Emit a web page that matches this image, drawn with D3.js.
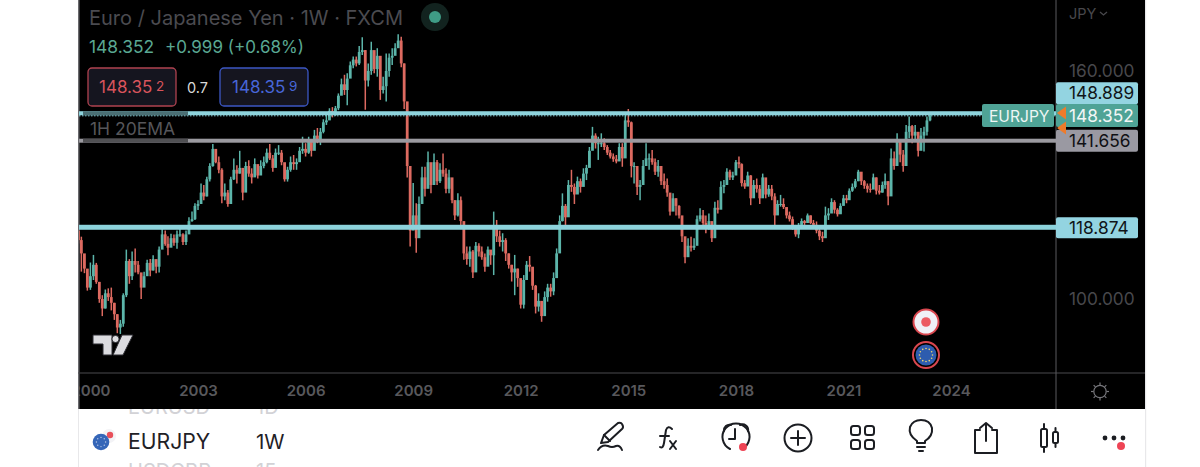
<!DOCTYPE html>
<html><head><meta charset="utf-8">
<script src="https://cdn.jsdelivr.net/npm/d3@7/dist/d3.min.js"></script>
<style>html,body{margin:0;padding:0;background:#fff;overflow:hidden}svg{display:block}text{font-family:Inter,"Noto Sans",sans-serif}</style>
</head><body><svg id="c" width="1200" height="467"></svg>
<script>
const yearTicks=[2000,2003,2006,2009,2012,2015,2018,2021,2024];
const priceTicks=[160,100];
const levels=[148.889,141.656,118.874];
const levelLabels=["148.889","141.656","118.874"];
const lastPrice=148.352;
const startYear=1999, startMonth=8;
const closes=[
115.5,112,108,103,106,109,104.5,100,97.5,101.5,
100.5,99,96,92.5,93.5,101,110,106,110,109,
107,103,106,109.5,107.5,110.5,108.5,113,117,114.5,
113.5,116,114.8,117,117,115,117,120.5,121,124.5,
125,128,127,131.5,135,139.5,136,134,127,128,
125,131.5,134,133,134.5,128,135,133,132,135.5,
132.5,135,136,138.5,137,134.5,138.5,138.5,136,131.5,
134,136,135.5,136,139,139.5,138.5,141.5,139,143,
142,144,146.5,147,149.5,149,150.2,153.5,156.5,155,
158,161.5,163,162,165,165.5,157.5,160,165.5,160.5,
164,155,156,160,163.5,164,166,168,162,152,
135,118,122,116,125,132,129,136,130,136,
131,134,133,129,132,126,122,126,120.5,112,
110.5,112.5,107,114,112.5,111,108.5,113,111.5,119,
116.5,115,115.5,112,109,107,108,105.5,98.5,105,
109,108.5,103.5,98,99.5,95.5,100.5,103,102,105.5,
112,120.5,124.5,121.5,130,129.5,127.5,131,129.5,133,
134.5,139,143,141,141,141,140,138.5,137.5,136.8,
136.2,140,137,147,146.5,135,135,129.5,130,135,
137,137,136,133.5,135,131,130,128,123,126.5,
124.5,122,116.5,111,114,113.5,114,121,122,120,
118.5,120.5,116,124,123.5,129.5,130,133.5,132,132.5,
136,135.5,130.5,129.6,132.5,126.5,130,129,126.5,132,
127.5,129,127,122,125,125,124.2,122,121,119,
117,119.5,120.5,120,122,120,119.5,118,116.5,116,
122,122.5,125.5,123.5,122.3,124.5,126.5,126,128.5,129.5,
131,133.5,131,129.8,129,128.8,132,128.5,128,130,
131,127,137,135,142,138,135,144,145.5,143,
144,139,143,144,147,148.352];
const highs=[
118.6,116.4,111.2,106.8,109.6,111.6,109.5,104.5,101,102.5,
102.8,103,99,96,94.5,101.5,113,110.5,112.5,113.3,
110,106.8,107.2,110.3,110.5,111.5,110.3,113.8,119.3,118,
116.5,117.2,117,118,119.2,117.3,118,121.5,123,125.2,
126,130.4,130,132.2,135.7,140.8,139.2,137.5,134.4,130.4,
128.7,132.2,137,135.2,139,134,136.1,136.5,134.4,137,
135.2,136.5,137.5,139.6,140.8,137.9,139.6,140.5,139.2,135.7,
134.8,137.5,137.9,137,140,142.7,141,142.7,141.8,144.5,
145,145,147.3,148.9,150.2,150.5,150.8,154.1,158,159,
159.4,162.5,163.8,163.8,166.6,168.9,165.5,162,167.7,164.6,
166,159.4,158.5,164.6,164.6,166,167.3,169.7,169,162,
150.6,133,130.5,125.2,127,134.8,134.8,138.8,135.7,138.3,
136.6,135.7,138.3,134.4,134,129.5,126,127.8,127,119,
113.8,113.8,112.9,115,114.7,113.8,112,113.8,112.5,123,
120.8,118,117.3,116,112,109,111.6,108,104.6,106.3,
110,111.3,108,103.7,101.5,99.3,102,104,104,107,
113.3,122,127.8,125,131.3,134,130.4,132.2,131.7,134.4,
135.3,140,145.3,143.6,142.7,143.6,142.3,140.5,139.2,138.3,
137.9,141,141,148.4,150,146.7,136,132.6,131.3,136.6,
141,138.3,139.2,137,136.6,134.4,133,131.7,127.8,127.8,
126.5,124.7,121.7,116,116,116.4,116,122,123.9,123.4,
122,122.5,119,125.6,126,131,131.3,134.4,134,133.5,
136.6,137.5,135.7,131.3,133.5,132.6,131.3,131.7,130,133,
130.9,130,130,127.8,126,127.4,126.5,124,123,121.7,
119.5,120,121.2,120.8,122.5,122,120.8,120.4,118.6,117.7,
124.3,123.9,126.5,126,123.9,125.2,127.4,127.4,129.1,130.4,
131.6,134,133,131.3,130.4,130.4,133,132,130,130.9,
133,131,139.6,138.8,143.6,141.8,139.2,145.8,148,145.8,
145.8,141.8,145,145.3,148,148.9];
const lows=[
114.6,107.2,106.8,102.2,102.4,105,104,99,95.5,97.5,
99.5,97,94.5,91,90.8,92.7,100.5,104,105,107,
106.5,100,104.5,106.8,106,107.5,106.8,107,113.5,114,
111.5,113.8,114,113.2,116.4,114.2,114.2,117.8,120.3,120.8,
123.4,125.6,126,127,130.9,134.8,135.7,133.1,125.2,126,
124.3,127.4,131.3,130.4,133,126,129,132.2,130.4,132.6,
131.7,133,134.4,135.7,136.6,133.5,135.2,137.9,135.2,130.9,
130.9,133.5,134,134,137,138.2,137.5,138.2,137.5,140,
141,140.5,143.6,145.8,147.1,147.8,148.2,149.7,154,153.7,
151,158.5,160.7,161.2,161.6,164.2,149.8,155.9,159,159.4,
158.5,152.4,154.1,152,158.5,161.6,164.2,166.4,161,150,
132,113.8,119,112.2,120,126,127,132.2,127.8,133,
130,130.5,132.2,127.8,127.8,125.2,120.8,121.7,119,110.3,
109,108.5,105.5,110.3,111.2,110.3,107.2,109.4,109,106.3,
115,113.8,112.5,110,108,104.6,101,103.2,97.5,97.5,
105.5,107.2,102.4,96.2,96.7,94,96.7,99.3,100.6,101,
106.3,112.9,120.4,119.3,124.7,128.2,125,127.8,128,130.7,
131.3,134.8,141,139.6,136.6,140,139.2,137.9,137,136.1,
135.7,137,134.8,141.4,145.3,132,130.4,127.4,126,131.3,
135.7,134,135.3,132.6,132.2,130,129,126.9,122,123.9,
122,121.2,115,109.4,112.5,112.5,112.9,116,120.4,118.6,
117.3,118.2,115,119,122.5,125.6,127.8,130,131.3,131.3,
133.5,134.4,129.6,129,130,124.7,127,128,125,129.6,
126.5,126.9,126,119.5,123.4,124.3,123.7,121.2,120.4,118.2,
116.4,116,119,119.3,120.4,119.7,118.6,117.3,115.5,115,
116.8,120.8,123.4,122.5,121.7,122.5,124.7,125.2,126.5,128.2,
129.1,131,130,129,128,128,129.6,127.5,127.5,128,
129,124.7,130.4,134,137,136,133.5,137.9,142.3,141,
141.8,137.5,140,138.8,143,146.8];

const svg=d3.select("#c");
const LEFT=78,RIGHT=1145,AXIS=1056,BOTTOM=409,SEP=373;
const x=d3.scaleTime().domain([new Date(2003,0,1),new Date(2024,0,1)]).range([198,951]);
const y=d3.scaleLinear().domain([100,160]).range([299,71]);
const candles=closes.map((c,i)=>({date:new Date(startYear,startMonth+i,1),open:i?closes[i-1]:118,close:c,high:highs[i],low:lows[i]}));

const defs=svg.append("defs");
defs.append("clipPath").attr("id","plot").append("rect").attr("x",LEFT+1).attr("y",0).attr("width",AXIS-LEFT-1).attr("height",SEP);
defs.append("clipPath").attr("id","timeClip").append("rect").attr("x",LEFT+1).attr("y",SEP).attr("width",AXIS-LEFT-1).attr("height",BOTTOM-SEP);
defs.append("clipPath").attr("id","barClip").append("rect").attr("x",LEFT).attr("y",BOTTOM).attr("width",RIGHT-LEFT).attr("height",467-BOTTOM);
defs.append("filter").attr("id","soft").attr("x","-5%").attr("y","-5%").attr("width","110%").attr("height","110%").append("feGaussianBlur").attr("stdDeviation",0.55);

svg.append("rect").attr("x",LEFT).attr("y",0).attr("width",RIGHT-LEFT).attr("height",BOTTOM).attr("fill","#000");
svg.append("rect").attr("x",LEFT).attr("y",0).attr("width",1.5).attr("height",BOTTOM).attr("fill","#6a6a6e");
svg.append("line").attr("x1",LEFT).attr("x2",RIGHT).attr("y1",SEP).attr("y2",SEP).attr("stroke","#4a4a4e");
svg.append("line").attr("x1",AXIS).attr("x2",AXIS).attr("y1",0).attr("y2",BOTTOM).attr("stroke","#5a5a5e");

// candles
const UP="#5cb5aa",DOWN="#dd6a61";
const cg=svg.append("g").attr("clip-path","url(#plot)").attr("filter","url(#soft)");
const col=d=>d.close>=d.open?UP:DOWN;
cg.selectAll(".w").data(candles).join("line").attr("class","w")
 .attr("x1",d=>x(d.date)).attr("x2",d=>x(d.date)).attr("y1",d=>y(d.high)).attr("y2",d=>y(d.low))
 .attr("stroke",col).attr("stroke-width",1.5);
cg.selectAll(".b").data(candles).join("rect").attr("class","b")
 .attr("x",d=>x(d.date)-1.4).attr("width",2.8)
 .attr("y",d=>y(Math.max(d.open,d.close))).attr("height",d=>Math.max(1,Math.abs(y(d.open)-y(d.close))))
 .attr("fill",col);

// horizontal levels
const levelColors=["#8dd3dc","#9b9aa0","#8dd3dc"],levelH=[4,4,5];
levels.forEach((v,i)=>{
  svg.append("rect").attr("x",LEFT+1).attr("width",AXIS-LEFT-1).attr("y",y(v)-levelH[i]/2).attr("height",levelH[i]).attr("fill",levelColors[i]);
});
svg.append("line").attr("x1",LEFT+1).attr("x2",AXIS).attr("y1",y(levels[0])+2.6).attr("y2",y(levels[0])+2.6).attr("stroke","#8dd3dc").attr("stroke-width",1).attr("stroke-dasharray","1.5 1.5");
svg.append("rect").attr("x",83).attr("width",105).attr("y",y(levels[0])-2).attr("height",4).attr("fill","#4a6f74");
svg.append("rect").attr("x",83).attr("width",105).attr("y",y(levels[1])-2).attr("height",4).attr("fill","#505053");
svg.append("text").attr("x",90).attr("y",135).attr("font-size",17.5).attr("fill","#56565a").text("1H 20EMA");

// price axis
const yAxis=d3.axisRight(y).tickValues(priceTicks).tickSize(0).tickPadding(13).tickFormat(d3.format(".3f"));
const ya=svg.append("g").attr("transform",`translate(${AXIS},0)`).call(yAxis);
ya.select(".domain").remove();
ya.selectAll("text").attr("font-size",17.3).attr("fill","#48484c").attr("font-family","Inter,sans-serif");
svg.append("text").attr("x",1069).attr("y",19).attr("font-size",14.5).attr("fill","#48484c").text("JPY");
svg.append("path").attr("d","M1100 12l3.5 3 3.5-3").attr("fill","none").attr("stroke","#48484c").attr("stroke-width",1.3);

// time axis
const xAxis=d3.axisBottom(x).tickValues(yearTicks.map(v=>new Date(v,0,1))).tickSize(0).tickPadding(12).tickFormat(d3.timeFormat("%Y"));
const xa=svg.append("g").attr("clip-path","url(#timeClip)").append("g").attr("transform",`translate(0,${SEP})`).call(xAxis);
xa.select(".domain").remove();
xa.selectAll("text").attr("font-size",15).attr("font-weight",600).attr("fill","#58585c").attr("font-family","Inter,sans-serif");

// price tags
function tag(x0,y0,w,h,fill,txt,tc,anchorX,fs){
  svg.append("rect").attr("x",x0).attr("y",y0).attr("width",w).attr("height",h).attr("rx",2).attr("fill",fill);
  svg.append("text").attr("x",anchorX).attr("y",y0+h/2+6).attr("font-size",fs||17.3).attr("fill",tc).text(txt);
}
tag(AXIS,y(levels[0])-31,82,22,"#93d4e1",levelLabels[0],"#101418",1069);
tag(AXIS,y(levels[1])-11,82,22,"#9a99a2",levelLabels[1],"#101014",1069);
tag(AXIS,y(levels[2])-10,82,21,"#93d4e1",levelLabels[2],"#101418",1069);
tag(AXIS,104,82,23,"#4fa396",d3.format(".3f")(lastPrice),"#f2f6f5",1069);
tag(982,104,72,23,"#4fa396","EURJPY","#eef6f4",989,15.6);
svg.append("path").attr("d","M1057 113l9-6.5v13z").attr("fill","#ee7b2a");
svg.append("path").attr("d","M1057 128l9-6.5v13z").attr("fill","#ee7b2a");

// header
svg.append("text").attr("x",89).attr("y",25).attr("font-size",20).attr("fill","#4b4b50").text("Euro / Japanese Yen · 1W · FXCM");
svg.append("circle").attr("cx",435).attr("cy",17).attr("r",14).attr("fill","#12231f");
svg.append("circle").attr("cx",435).attr("cy",17).attr("r",6).attr("fill","#3f9c86");
svg.append("text").attr("x",89).attr("y",53).attr("font-size",17.4).attr("fill","#5aa893").text("148.352");
svg.append("text").attr("x",165).attr("y",53).attr("font-size",17).attr("fill","#5aa893").text("+0.999 (+0.68%)");
function box(x0,w,st,tc,main,sup,tx){
  svg.append("rect").attr("x",x0).attr("y",68).attr("width",w).attr("height",38).attr("rx",4).attr("fill","#15151f").attr("stroke",st).attr("stroke-width",1.3);
  svg.append("text").attr("x",tx).attr("y",93).attr("font-size",17).attr("fill",tc).text(main);
  svg.append("text").attr("x",tx+57).attr("y",91).attr("font-size",13.5).attr("fill",tc).text(sup);
}
box(88,88,"#b04350","#d9545c","148.35","2",99);
box(220,88,"#3c57c4","#4766d8","148.35","9",232);
svg.append("text").attr("x",187).attr("y",93).attr("font-size",14.5).attr("fill","#d8d8d8").text("0.7");

// TradingView logo
const logo=svg.append("g").attr("fill","#dcdce0").attr("stroke","#2a2a30").attr("stroke-width",1);
logo.append("path").attr("d","M93 335H112V355H103V344H93Z");
logo.append("circle").attr("cx",115.5).attr("cy",339).attr("r",3.6);
logo.append("path").attr("d","M122 335H133L123 355H113Z");

// markers
svg.append("circle").attr("cx",926).attr("cy",322).attr("r",12.5).attr("fill","#f0f0f6").attr("stroke","#d9474f").attr("stroke-width",2);
svg.append("circle").attr("cx",926).attr("cy",322).attr("r",4.8).attr("fill","#ec5a62");
svg.append("circle").attr("cx",926).attr("cy",355).attr("r",13).attr("fill","#000").attr("stroke","#d9474f").attr("stroke-width",2);
svg.append("circle").attr("cx",926).attr("cy",355).attr("r",10.5).attr("fill","#2d5cae");
d3.range(12).forEach(k=>{const a=k*Math.PI/6;
  svg.append("circle").attr("cx",926+6.5*Math.cos(a)).attr("cy",355+6.5*Math.sin(a)).attr("r",0.8).attr("fill","#f0d870");
});

// sun icon
svg.append("circle").attr("cx",1100).attr("cy",391.5).attr("r",6.2).attr("fill","none").attr("stroke","#77777c").attr("stroke-width",1.2);
d3.range(8).forEach(k=>{const a=k*Math.PI/4;
  svg.append("line").attr("x1",1100+6.5*Math.cos(a)).attr("y1",391.5+6.5*Math.sin(a)).attr("x2",1100+9*Math.cos(a)).attr("y2",391.5+9*Math.sin(a)).attr("stroke","#77777c").attr("stroke-width",1.2);
});

// bottom toolbar
const under=svg.append("g").attr("clip-path","url(#barClip)").attr("font-size",20).attr("fill","#d2d2d6");
under.append("text").attr("x",128).attr("y",414).text("EURUSD");
under.append("text").attr("x",256).attr("y",414).text("1D");
under.append("text").attr("x",128).attr("y",478).text("USDGBP");
under.append("text").attr("x",256).attr("y",478).text("15m");
svg.append("rect").attr("x",RIGHT).attr("y",0).attr("width",1.2).attr("height",467).attr("fill","#e8e8ea");
svg.append("rect").attr("x",LEFT).attr("y",409).attr("width",1).attr("height",58).attr("fill","#e8e8ea");
svg.append("text").attr("x",128).attr("y",449).attr("font-size",21.2).attr("fill","#1f2126").text("EURJPY");
svg.append("text").attr("x",256).attr("y",449).attr("font-size",20.5).attr("fill","#1f2126").text("1W");
svg.append("circle").attr("cx",109).attr("cy",436).attr("r",7).attr("fill","#f3f3f6");
svg.append("circle").attr("cx",110).attr("cy",435).attr("r",3.2).attr("fill","#e8505a");
svg.append("circle").attr("cx",101).attr("cy",442).attr("r",8.3).attr("fill","#3566b8");
d3.range(8).forEach(k=>{const a=k*Math.PI/4;
  svg.append("circle").attr("cx",101+4.6*Math.cos(a)).attr("cy",442+4.6*Math.sin(a)).attr("r",0.7).attr("fill","#b9c9e6");
});
const ic=svg.append("g").attr("fill","none").attr("stroke","#1b1d22").attr("stroke-width",2).attr("stroke-linecap","round").attr("stroke-linejoin","round");
// pen
ic.append("path").attr("d","M601 443L604 435L618 423Q621 422 622 424Q624 427 622 429L608 442Z");
ic.append("path").attr("d","M604 435L610 441");
ic.append("path").attr("d","M598 450Q602 444 608 446Q612 448 616 446Q620 445 622 450");
// fx
ic.append("path").attr("d","M672 429Q668 425 666 430L664 443Q663 449 660 447");
ic.append("path").attr("d","M660 436H669");
ic.append("path").attr("d","M670 441L676 449M676 441L670 449");
// alarm
ic.append("path").attr("d","M742 449A13.5 13.5 0 1 0 730 449");
ic.append("path").attr("d","M735 429V439H729");
ic.append("path").attr("d","M724 431A5.5 5.5 0 0 1 731 425");
ic.append("path").attr("d","M740 425A5.5 5.5 0 0 1 748 431");
svg.append("circle").attr("cx",743).attr("cy",447).attr("r",4).attr("fill","#ee4455");
// plus
ic.append("circle").attr("cx",798).attr("cy",438).attr("r",13.5);
ic.append("path").attr("d","M798 431V445M791 438H805");
// grid
[[850,424],[864,424],[850,438],[864,438]].forEach(p=>ic.append("rect").attr("x",p[0]+1).attr("y",p[1]+2).attr("width",9).attr("height",9).attr("rx",2.5));
// bulb
ic.append("path").attr("d","M917 443V441Q908 435 910 427Q913 420 921 420Q930 420 932 428Q933 436 925 441V443Z");
ic.append("path").attr("d","M917 447H925M919 451H923");
// share
ic.append("path").attr("d","M980 430H975V453H997V430H992");
ic.append("path").attr("d","M986 441V423M980 428L986 423L992 428");
// candles icon
ic.append("rect").attr("x",1041).attr("y",429).attr("width",6).attr("height",18).attr("rx",1.5);
ic.append("path").attr("d","M1044 424V429M1044 447V452");
ic.append("rect").attr("x",1053).attr("y",432).attr("width",5).attr("height",11).attr("rx",1.5);
ic.append("path").attr("d","M1055.5 428V432M1055.5 443V447");
// dots
[1105,1114,1123].forEach(cx=>svg.append("circle").attr("cx",cx).attr("cy",438).attr("r",2.4).attr("fill","#1b1d22"));
svg.append("circle").attr("cx",1121).attr("cy",446).attr("r",4).attr("fill","#ee4455");
</script></body></html>
